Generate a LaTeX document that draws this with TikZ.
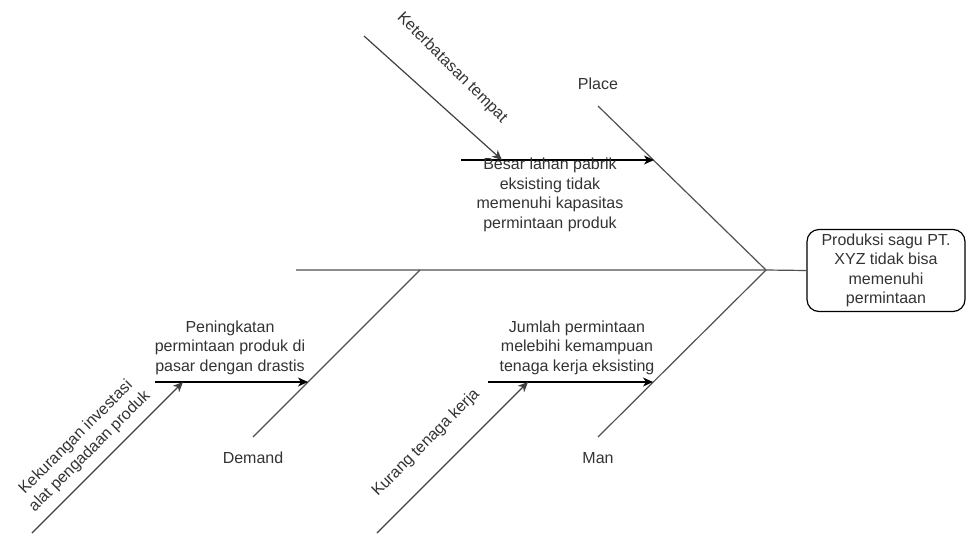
\documentclass[tikz,border=0pt]{standalone}
\usepackage{fontspec}
\setmainfont{Liberation Sans}
\usetikzlibrary{arrows.meta,positioning,calc}
\definecolor{ink}{HTML}{333333}
\definecolor{bonec}{HTML}{505050}
\tikzset{bone/.style={draw=bonec,line width=1.2pt},
  cause/.style={draw=black,line width=1.2pt,-{Stealth[length=10pt,width=9pt,inset=3pt]}},
  subcause/.style={draw=black!75,line width=1.2pt,-{Stealth[length=10pt,width=9pt,inset=3pt]}},
  lbl/.style={font=\fontsize{16}{19.5}\selectfont,text=ink,align=center,inner sep=0pt},
  effect/.style={draw=black,line width=1.2pt,rounded corners=12pt,minimum width=158pt,
    minimum height=82pt,align=center,inner sep=2pt,font=\fontsize{16}{19.5}\selectfont,text=ink}}

\begin{document}
\begin{tikzpicture}[x=1pt,y=1pt]
\useasboundingbox (0,0) rectangle (966,-533);

% Head of the fish: the problem.
\node[effect] (effect) at (886,-270.5) {Produksi sagu PT.\\XYZ tidak bisa\\memenuhi\\permintaan};

% Spine and main bones.
\coordinate (head) at (766,-270);
\coordinate (tail) at (296,-270);
\coordinate (place) at (598,-106);
\coordinate (man) at (598,-437);
\coordinate (demand) at (253,-437);
\coordinate (demand top) at (420,-270);
\draw[bone] (tail) -- (head) -- (effect.west);
\draw[bone] (place) -- (head);
\draw[bone] (man) -- (head);
\draw[bone] (demand) -- (demand top);

% Category labels.
\foreach \x/\y/\name/\txt in {598/-84/placelbl/Place,253/-458/demandlbl/Demand,598/-458/manlbl/Man}{
  \node[lbl] (\name) at (\x,\y) {\txt};
}

% Place: cause and sub-cause.
\coordinate (place cause) at (461,-160);
\coordinate (place hit) at (654,-160);
\draw[cause] (place cause) -- (place hit);
\node[lbl] (place text) at (550,-195)
  {Besar lahan pabrik\\eksisting tidak\\memenuhi kapasitas\\permintaan produk};
\coordinate (place sub) at (364,-36);
\coordinate (place sub hit) at (502,-160);
\draw[subcause] (place sub) -- (place sub hit);
\node[lbl,rotate=-45] (place sub text) at (452,-68) {Keterbatasan tempat};

% Demand: cause and sub-cause.
\coordinate (demand cause) at (155,-382);
\coordinate (demand hit) at (308,-382);
\draw[cause] (demand cause) -- (demand hit);
\node[lbl] (demand text) at (230,-347.5)
  {Peningkatan\\permintaan produk di\\pasar dengan drastis};
\coordinate (demand sub) at (32,-533);
\coordinate (demand sub hit) at (183,-382);
\draw[subcause] (demand sub) -- (demand sub hit);
\node[lbl,rotate=45] (demand sub text) at (83,-444.5)
  {Kekurangan investasi\\alat pengadaan produk};

% Man: cause and sub-cause.
\coordinate (man cause) at (488,-382);
\coordinate (man hit) at (653,-382);
\draw[cause] (man cause) -- (man hit);
\node[lbl] (man text) at (577,-347.5)
  {Jumlah permintaan\\melebihi kemampuan\\tenaga kerja eksisting};
\coordinate (man sub) at (377,-533);
\coordinate (man sub hit) at (528,-382);
\draw[subcause] (man sub) -- (man sub hit);
\node[lbl,rotate=45] (man sub text) at (426,-443) {Kurang tenaga kerja};
\end{tikzpicture}
\end{document}
